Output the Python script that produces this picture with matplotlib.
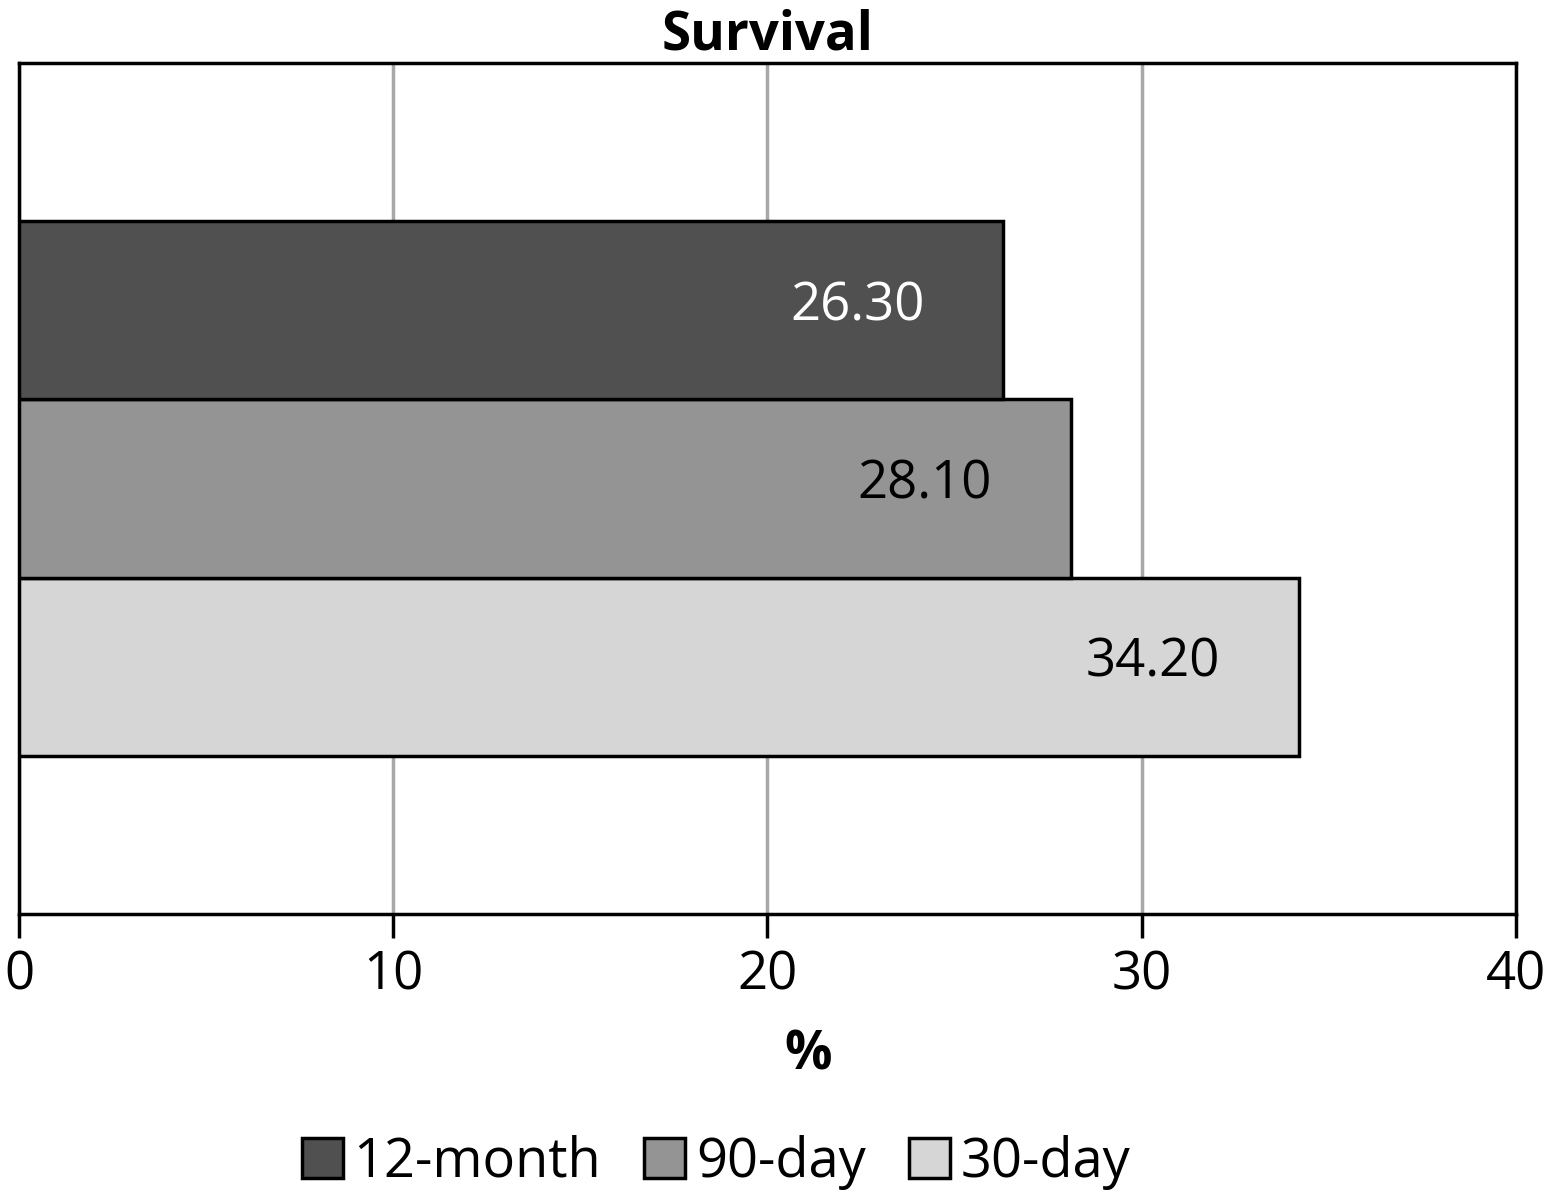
import matplotlib
matplotlib.use('Agg')
import matplotlib.pyplot as plt
from matplotlib.patches import Patch

plt.rcParams['font.family'] = ['Open Sans', 'DejaVu Sans']

# data (bottom to top)
periods = ['30-day', '90-day', '12-month']
values = [34.20, 28.10, 26.30]
colors = ['#d6d6d6', '#949494', '#505050']
label_colors = ['black', 'black', 'white']

fig = plt.figure(figsize=(15.5, 11.97), dpi=100)
ax = fig.add_axes([0.01226, 0.2364, 0.9658, 0.711])

ypos = list(range(len(periods)))
ax.barh(ypos, values, height=1.0, color=colors, edgecolor='black', linewidth=2.5, zorder=3)

for y, v, lc in zip(ypos, values, label_colors):
    ax.text(v - 3.9, y + 0.02, f'{v:.2f}', ha='center', va='center', fontsize=38, color=lc, zorder=4)

ax.set_xlim(0, 40)
ax.set_ylim(-1.39, 3.39)
ax.set_xticks([0, 10, 20, 30, 40])
ax.tick_params(axis='x', labelsize=38, length=17, width=2.5, direction='out', pad=8)
ax.set_yticks([])
ax.xaxis.grid(True, color='#a8a8a8', linewidth=2.5, zorder=0)
for s in ax.spines.values():
    s.set_linewidth(2.5)
    s.set_color('black')

ax.set_xlabel('%', fontsize=38, fontweight='bold', labelpad=18)
ax.xaxis.set_label_coords(0.527, -0.135)
ax.set_title('Survival', fontsize=38, fontweight='bold', pad=4)

handles = [Patch(facecolor=c, edgecolor='black', linewidth=2.5, label=p)
           for p, c in zip(reversed(periods), reversed(colors))]
fig.legend(handles=handles, loc='center', bbox_to_anchor=(0.462, 0.029), ncol=3, frameon=False,
           fontsize=39, handlelength=0.75, handleheight=0.75, handletextpad=0.2, columnspacing=0.8)

fig.savefig('out.png', dpi=100)
